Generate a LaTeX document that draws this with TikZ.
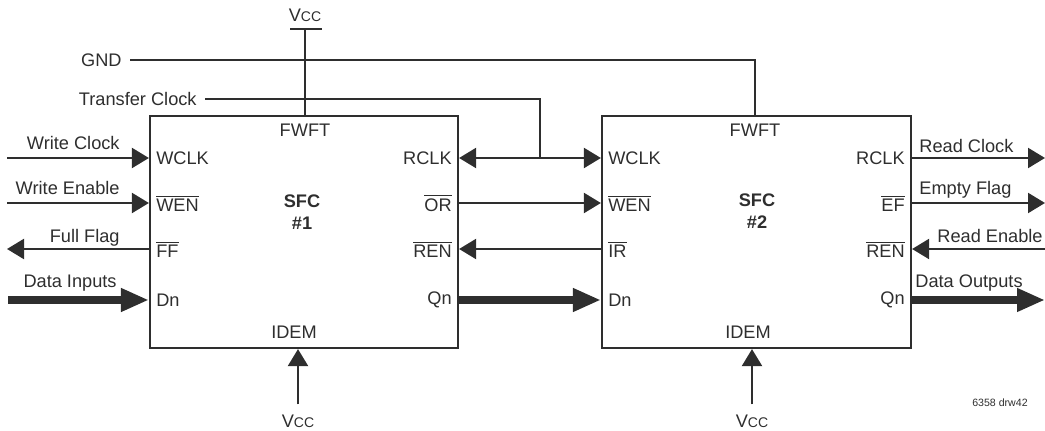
\documentclass[tikz,border=0pt]{standalone}
\usepackage{fontspec}
\setmainfont{Liberation Sans}
\usepackage{tikz}
\usetikzlibrary{arrows.meta,positioning}
\definecolor{ink}{HTML}{2E2E2E}
\newcommand{\ovl}[1]{$\overline{\mbox{#1}}$}
\newcommand{\vcc}{V{\fontsize{7}{8}\selectfont CC}}

\begin{document}
\begin{tikzpicture}[x=0.5pt,y=-0.5pt,color=ink,font=\fontsize{9.1}{11}\selectfont,
  box/.style={draw=ink,line width=1.1pt,inner sep=0pt,minimum width=154pt,minimum height=116pt},
  pin/.style={inner sep=0pt},
  sig/.style={draw=ink,line width=1.1pt},
  tip/.style={-{Triangle[length=8.5pt,width=10pt]}},
  bus/.style={draw=ink,line width=4pt,-{Triangle[length=14pt,width=11pt]}}]
% Units are the pixels of the drawing: 1045 x 431, y running down.
\useasboundingbox (0,0) rectangle (1045,431);

% ---- the two FIFOs -------------------------------------------------------
\node[box] (sfc1) at (304,232) {};
\node[box,minimum width=154.5pt] (sfc2) at (756.5,232) {};
\node[align=center,font=\bfseries\fontsize{9.1}{11}\selectfont] (name1) at (302,212) {SFC\\\#1};
\node[align=center,font=\bfseries\fontsize{9.1}{11}\selectfont] (name2) at (757,211) {SFC\\\#2};

% pins on the borders
\coordinate (a1wclk) at (sfc1.west |- 0,158);
\coordinate (a1wen)  at (sfc1.west |- 0,203);
\coordinate (a1ff)   at (sfc1.west |- 0,249);
\coordinate (a1dn)   at (sfc1.west |- 0,300);
\coordinate (a1rclk) at (sfc1.east |- 0,158);
\coordinate (a1or)   at (sfc1.east |- 0,203);
\coordinate (a1ren)  at (sfc1.east |- 0,249);
\coordinate (a1qn)   at (sfc1.east |- 0,300);
\coordinate (a1fwft) at (sfc1.north -| 305,0);
\coordinate (a1idem) at (sfc1.south -| 298,0);
\coordinate (b2wclk) at (sfc2.west |- 0,158);
\coordinate (b2wen)  at (sfc2.west |- 0,203);
\coordinate (b2ir)   at (sfc2.west |- 0,249);
\coordinate (b2dn)   at (sfc2.west |- 0,300);
\coordinate (b2rclk) at (sfc2.east |- 0,158);
\coordinate (b2ef)   at (sfc2.east |- 0,203);
\coordinate (b2ren)  at (sfc2.east |- 0,249);
\coordinate (b2qn)   at (sfc2.east |- 0,300);
\coordinate (b2fwft) at (sfc2.north -| 755,0);
\coordinate (b2idem) at (sfc2.south -| 752,0);

% pin names
\node[pin,right=3.5pt of a1wclk] (t1wclk) {WCLK};
\node[pin,right=3.5pt of a1wen]  (t1wen)  {\ovl{WEN}};
\node[pin,right=3.5pt of a1ff]   (t1ff)   {\ovl{FF}};
\node[pin,right=3.5pt of a1dn]   (t1dn)   {Dn};
\node[pin,left=3.5pt of a1rclk]  (t1rclk) {RCLK};
\node[pin,left=3.5pt of a1or]    (t1or)   {\ovl{OR}};
\node[pin,left=3.5pt of a1ren]   (t1ren)  {\ovl{REN}};
\node[pin,left=3.5pt of a1qn]    (t1qn)   {Qn};
\node[pin,below=4.5pt of a1fwft] (t1fwft) {FWFT};
\node[pin,above=5pt of a1idem,xshift=-2pt] (t1idem) {IDEM};
\node[pin,right=3.5pt of b2wclk] (t2wclk) {WCLK};
\node[pin,right=3.5pt of b2wen]  (t2wen)  {\ovl{WEN}};
\node[pin,right=3.5pt of b2ir]   (t2ir)   {\ovl{IR}};
\node[pin,right=3.5pt of b2dn]   (t2dn)   {Dn};
\node[pin,left=3.5pt of b2rclk]  (t2rclk) {RCLK};
\node[pin,left=3.5pt of b2ef]    (t2ef)   {\ovl{EF}};
\node[pin,left=3.5pt of b2ren]   (t2ren)  {\ovl{REN}};
\node[pin,left=3.5pt of b2qn]    (t2qn)   {Qn};
\node[pin,below=4.5pt of b2fwft] (t2fwft) {FWFT};
\node[pin,above=5pt of b2idem,xshift=-2pt] (t2idem) {IDEM};

% ---- supplies and the shared clock ---------------------------------------
\node[pin] (vtop) at (305,15) {\vcc};
\coordinate (vbarl) at (290,29);
\coordinate (vbarr) at (322,29);
\draw[sig] (vbarl) -- (vbarr);
\draw[sig] (vbarl -| a1fwft) -- (a1fwft);
\node[anchor=east,inner sep=4pt] (gnd) at (130,60) {GND};
\draw[sig] (gnd.east) -| (b2fwft);
\node[anchor=east,inner sep=4pt] (xclk) at (205,99) {Transfer Clock};
\coordinate (xjoin) at (540,158);
\draw[sig] (xclk.east) -| (xjoin);
\draw[sig,{Triangle[length=8.5pt,width=10pt]}-{Triangle[length=8.5pt,width=10pt]}]
  (a1rclk) -- (b2wclk);
% the lower supplies: the arrow stops 10 px above the text
\node[pin] (vbot1) at (298,421) {\vcc};
\node[pin] (vbot2) at (752,421) {\vcc};
\draw[sig,tip] ([yshift=5pt]vbot1.north) -- (a1idem);
\draw[sig,tip] ([yshift=5pt]vbot2.north) -- (b2idem);

% ---- between the two FIFOs -----------------------------------------------
\draw[sig,tip] (a1or) -- (b2wen);
\draw[sig,tip] (b2ir) -- (a1ren);
\draw[bus] (a1qn) -- (b2dn);

% ---- write side ----------------------------------------------------------
\coordinate (wclkin) at (7,158);
\coordinate (wenin)  at (7,203);
\coordinate (ffout)  at (7,249);
\coordinate (dnin)   at (8,300);
\draw[sig,tip] (wclkin) -- (a1wclk);
\draw[sig,tip] (wenin) -- (a1wen);
\draw[sig,tip] (a1ff) -- (ffout);
\draw[bus] (dnin) -- (a1dn);
\node[pin,anchor=base east] (lwclk) at (120,150) {Write Clock};
\node[pin,anchor=base east] (lwen)  at (120,195) {Write Enable};
\node[pin,anchor=base east] (lff)   at (120,243) {Full Flag};
\node[pin,anchor=base east] (ldn)   at (117,288) {Data Inputs};

% ---- read side -----------------------------------------------------------
\coordinate (rclkout) at (1045,158);
\coordinate (efout)   at (1045,203);
\coordinate (renin)   at (1045,249);
\coordinate (qnout)   at (1045,300);
\draw[sig,tip] (b2rclk) -- (rclkout);
\draw[sig,tip] (b2ef) -- (efout);
\draw[sig,tip] (renin) -- (b2ren);
\draw[bus] (b2qn) -- (qnout);
\node[pin,anchor=base west] (lrclk) at (919,153) {Read Clock};
\node[pin,anchor=base west] (lef)   at (919,195) {Empty Flag};
\node[pin,anchor=base west] (lren)  at (937,243) {Read Enable};
\node[pin,anchor=base west] (lqn)   at (915,288) {Data Outputs};

\node[pin,font=\fontsize{5.3}{6}\selectfont] (drw) at (1000,403) {6358 drw42};
\end{tikzpicture}
\end{document}
